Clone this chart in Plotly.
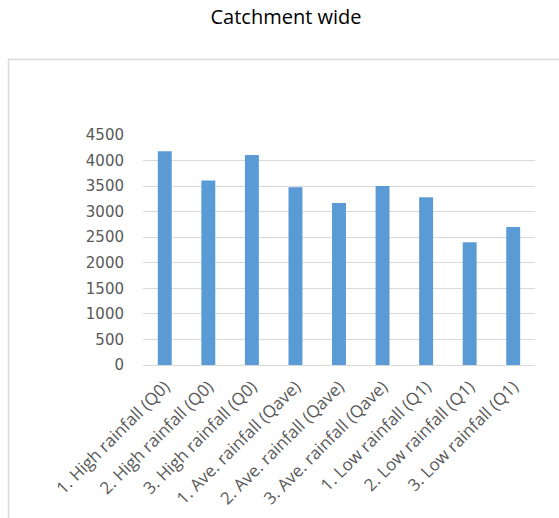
import plotly.graph_objects as go

categories = [
    "1. High rainfall (Q0)", "2. High rainfall (Q0)", "3. High rainfall (Q0)",
    "1. Ave. rainfall (Qave)", "2. Ave. rainfall (Qave)", "3. Ave. rainfall (Qave)",
    "1. Low rainfall (Q1)", "2. Low rainfall (Q1)", "3. Low rainfall (Q1)",
]
values = [4180, 3610, 4110, 3480, 3170, 3500, 3280, 2400, 2700]
y_ticks = [0, 500, 1000, 1500, 2000, 2500, 3000, 3500, 4000, 4500]

W, H = 559, 518
ml, mr, mt, mb = 143, 24, 135, 153
pw, ph = W - ml - mr, H - mt - mb

fig = go.Figure(go.Bar(x=categories, y=values, marker=dict(color="#5b9bd5", line=dict(width=0))))

fig.update_layout(
    width=W, height=H,
    margin=dict(l=ml, r=mr, t=mt, b=mb, autoexpand=False),
    paper_bgcolor="white", plot_bgcolor="white",
    bargap=0.68,
    showlegend=False,
    title=dict(text="Catchment wide", x=286 / W, xref="container", xanchor="center",
               y=1 - 17 / H, yref="container", yanchor="middle",
               font=dict(family="Open Sans", size=20, color="#000000")),
    font=dict(family="Open Sans", color="#595959"),
    shapes=[dict(type="rect", xref="paper", yref="paper",
                 x0=(8.5 - ml) / pw, x1=2.0, y0=-2.0, y1=(mt + ph - 59.5) / ph,
                 line=dict(color="#d9d9d9", width=1.5), fillcolor="rgba(0,0,0,0)", layer="below")],
)
fig.update_yaxes(range=[0, 4500], tickvals=y_ticks, ticktext=[str(v) for v in y_ticks],
                 showgrid=True, gridcolor="#d9d9d9", gridwidth=1, zeroline=False,
                 showline=False, ticks="", ticklabelstandoff=18,
                 tickfont=dict(family="DejaVu Sans", size=15, color="#595959"))
fig.update_xaxes(tickangle=-45, showline=True, linecolor="#d9d9d9", linewidth=1, ticks="",
                 ticklabelstandoff=4,
                 tickfont=dict(family="Open Sans", size=17, color="#595959"))

fig.write_html("out.html")
